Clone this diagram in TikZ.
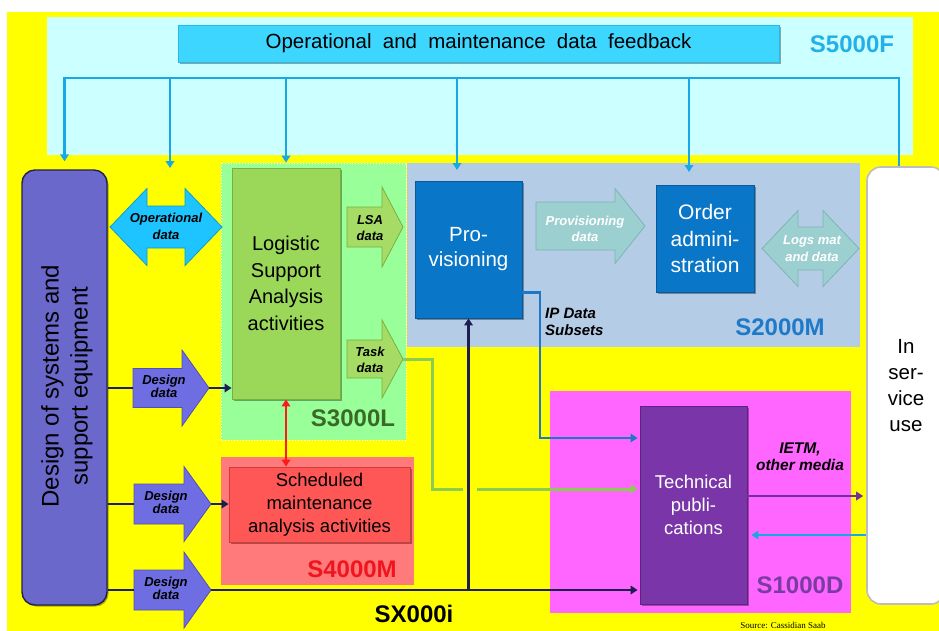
\documentclass[tikz,border=0pt]{standalone}
\usepackage{fontspec}
\setmainfont{Liberation Sans}
\newfontfamily\srcfont{Liberation Serif}
\usetikzlibrary{arrows.meta,calc,shadows}

\definecolor{yel}{HTML}{FFFF00}
\definecolor{fbpanel}{HTML}{CCFFFF}
\definecolor{fbbar}{HTML}{3DD6FF}
\definecolor{fbbaredge}{HTML}{2CB8E0}
\definecolor{fbline}{HTML}{18A8E6}
\definecolor{fblabel}{HTML}{22B0E8}
\definecolor{dsgn}{HTML}{6B68CC}
\definecolor{dsgnedge}{HTML}{22224F}
\definecolor{darr}{HTML}{6E6EE2}
\definecolor{darredge}{HTML}{5050B8}
\definecolor{oparr}{HTML}{1EC4FF}
\definecolor{oparredge}{HTML}{0A9AD8}
\definecolor{lsapanel}{HTML}{99FF99}
\definecolor{lsabox}{HTML}{9BD85A}
\definecolor{lsaedge}{HTML}{78B040}
\definecolor{lsaarr}{HTML}{A6DC66}
\definecolor{lsalabel}{HTML}{3A6A28}
\definecolor{sbpanel}{HTML}{B4CCE6}
\definecolor{sblabel}{HTML}{1E7AC8}
\definecolor{bluebox}{HTML}{0A76C8}
\definecolor{blueedge}{HTML}{08589A}
\definecolor{tealarr}{HTML}{9CCFCF}
\definecolor{tealedge}{HTML}{7EB4B4}
\definecolor{smpanel}{HTML}{FF7A7A}
\definecolor{smlabel}{HTML}{F0141E}
\definecolor{schedbox}{HTML}{FF5656}
\definecolor{schededge}{HTML}{D03A3A}
\definecolor{redarr}{HTML}{FF1A1A}
\definecolor{tdpanel}{HTML}{FF66FF}
\definecolor{tdlabel}{HTML}{7A3CA0}
\definecolor{tpbox}{HTML}{7A36A8}
\definecolor{tpedge}{HTML}{5A2480}
\definecolor{ietmcol}{HTML}{7030A0}
\definecolor{navy}{HTML}{1E1E50}
\definecolor{grn}{HTML}{8CCC50}
\definecolor{ipcol}{HTML}{1E78C8}
\definecolor{svcedge}{HTML}{BDBDBD}

% right-pointing block arrow: style, x tail, x tip, y centre, half body, half head, head length
\newcommand{\dataarrowR}[7]{\path[#1] (#2,#4-#5) -- (#3-#7,#4-#5) -- (#3-#7,#4-#6) -- (#3,#4)
  -- (#3-#7,#4+#6) -- (#3-#7,#4+#5) -- (#2,#4+#5) -- cycle;}
% two-headed block arrow, same arguments
\newcommand{\dataarrowLR}[7]{\path[#1] (#2,#4) -- (#2+#7,#4-#6) -- (#2+#7,#4-#5) -- (#3-#7,#4-#5)
  -- (#3-#7,#4-#6) -- (#3,#4) -- (#3-#7,#4+#6) -- (#3-#7,#4+#5) -- (#2+#7,#4+#5) -- (#2+#7,#4+#6) -- cycle;}

\begin{document}
\begin{tikzpicture}[x=1pt,y=-1pt,
  >={Triangle[length=7pt,width=8.5pt]},
  sbox/.style={draw, line width=0.8pt, inner sep=0, align=center,
    drop shadow={shadow xshift=1.5pt, shadow yshift=-1.5pt, opacity=0.35, fill=black}},
  slabel/.style={font=\fontsize{24}{24}\selectfont\bfseries, inner sep=0},
  alabel/.style={font=\fontsize{13}{15}\selectfont\bfseries\itshape, align=center, inner sep=0},
  conn/.style={line width=2.7pt},
  fbl/.style={conn, draw=fbline},
  navyl/.style={conn, draw=navy},
  grl/.style={conn, line width=3pt, draw=grn},
  ipl/.style={conn, draw=ipcol},
  ietml/.style={conn, draw=ietmcol},
  retl/.style={conn, draw=fbline},
  redl/.style={conn, draw=redarr},
  darrow/.style={fill=darr, draw=darredge, line width=0.8pt},
  oparrow/.style={fill=oparr, draw=oparredge, line width=0.8pt},
  lsaarrow/.style={fill=lsaarr, draw=lsaedge, line width=0.8pt},
  tealarrow/.style={fill=tealarr, draw=tealedge, line width=0.8pt},
]
\clip (0,0) rectangle (939,630);
\fill[white] (0,0) rectangle (939,630);

% ---- background areas ----
\fill[yel] (7,12) rectangle (945,640);
\fill[fbpanel] (47,17) rectangle (913,155);
\fill[sbpanel] (407,163) rectangle (860,347);
\path[fill=lsapanel, draw=white, dotted, line width=0.9pt] (221,163) rectangle (406,440);
\fill[smpanel] (221,457) rectangle (414,585);
\fill[tdpanel] (550,391) rectangle (851,613);

% ---- specification labels ----
\node[slabel, text=fblabel] (s5000f) at (852,44) {S5000F};
\node[slabel, text=lsalabel] (s3000l) at (353,418) {S3000L};
\node[slabel, text=sblabel] (s2000m) at (780,327) {S2000M};
\node[slabel, text=smlabel] (s4000m) at (352,569) {S4000M};
\node[slabel, text=tdlabel] (s1000d) at (800,585) {S1000D};
\node[slabel, text=black] (sx000i) at (414,614) {SX000i};
\node[font=\srcfont\fontsize{9}{10}\selectfont, inner sep=0] (src) at (783,625) {Source: Cassidian Saab};

% ---- boxes ----
\node[sbox, fill=fbbar, draw=fbbaredge, minimum width=601pt, minimum height=37pt,
  font=\fontsize{20.5}{24}\selectfont] (feedbar) at (478.5,43.5)
  {\raisebox{-1.5pt}{Operational\hspace{0.55em}and\hspace{0.55em}maintenance\hspace{0.55em}data\hspace{0.55em}feedback}};

\node[sbox, fill=dsgn, draw=dsgnedge, line width=1.4pt, rounded corners=13pt,
  minimum width=85pt, minimum height=435pt] (design) at (64.5,387.5) {};
\node[rotate=90, align=center, inner sep=0, font=\fontsize{24}{29}\selectfont] (designtxt)
  at (67,386) {Design of systems and\\support equipment};

\node[sbox, fill=lsabox, draw=lsaedge, minimum width=108pt, minimum height=231pt,
  font=\fontsize{20}{26.5}\selectfont] (lsa) at (286,283.5)
  {Logistic\\Support\\Analysis\\activities};

\node[sbox, fill=bluebox, draw=blueedge, text=white, minimum width=107pt, minimum height=137pt,
  font=\fontsize{20.5}{25}\selectfont] (prov) at (468.5,249.5) {Pro-\\visioning};

\node[sbox, fill=bluebox, draw=blueedge, text=white, minimum width=98pt, minimum height=107pt,
  font=\fontsize{21}{26.5}\selectfont] (order) at (705,238.5) {Order\\admini-\\stration};

\node[sbox, fill=schedbox, draw=schededge, minimum width=181pt, minimum height=75pt,
  font=\fontsize{18.5}{23}\selectfont] (sched) at (319.5,504.5)
  {Scheduled\\maintenance\\analysis activities};

\node[sbox, fill=tpbox, draw=tpedge, text=white, minimum width=107pt, minimum height=198pt,
  font=\fontsize{18.5}{23}\selectfont] (techpub) at (693.5,505) {Technical\\publi-\\cations};

\node[draw=svcedge, line width=1.6pt, fill=white, rounded corners=14pt, inner sep=0,
  align=center, minimum width=78pt, minimum height=437pt,
  font=\fontsize{20.5}{26}\selectfont] (service) at (906,385.5) {In\\ser-\\vice\\use};

% ---- block arrows ----
\dataarrowLR{oparrow}{110}{222}{227}{21}{38.5}{37}
\node[alabel, font=\fontsize{13}{17}\selectfont\bfseries\itshape] (opdata) at (166,226.5) {Operational\\data};

\dataarrowR{lsaarrow}{347}{403}{227}{20}{40}{21}
\node[alabel, font=\fontsize{13}{16}\selectfont\bfseries\itshape] (lsadata) at (370,228.5) {LSA\\data};

\dataarrowR{lsaarrow}{347}{403}{359}{19}{39}{21}
\node[alabel, font=\fontsize{13}{16}\selectfont\bfseries\itshape] (taskdata) at (370,360) {Task\\data};

\dataarrowR{tealarrow}{536}{645}{226}{24}{37.5}{30}
\node[alabel, text=white, font=\fontsize{13}{16}\selectfont\bfseries\itshape] (provdata) at (585,229) {Provisioning\\data};

\dataarrowLR{tealarrow}{762}{859}{248.5}{21.5}{38}{36}
\node[alabel, text=white, font=\fontsize{13}{17}\selectfont\bfseries\itshape] (logsdata) at (812,248.5) {Logs mat\\and data};

\dataarrowR{darrow}{133}{209}{388}{19.5}{38}{27}
\node[alabel, font=\fontsize{13}{13.5}\selectfont\bfseries\itshape] (dd1) at (164,386.5) {Design\\data};
\dataarrowR{darrow}{134}{211}{504}{20}{37.5}{27}
\node[alabel, font=\fontsize{13}{13.5}\selectfont\bfseries\itshape] (dd2) at (166,502.5) {Design\\data};
\dataarrowR{darrow}{134}{211}{590}{20}{38}{27}
\node[alabel, font=\fontsize{13}{13.5}\selectfont\bfseries\itshape] (dd3) at (166,588.5) {Design\\data};

% arrow ends used by the connectors
\coordinate (da1t) at (133,388);  \coordinate (da1h) at (209,388);
\coordinate (da2t) at (134,504);  \coordinate (da2h) at (211,504);
\coordinate (da3t) at (134,590);  \coordinate (da3h) at (211,590);
\coordinate (taskh) at (403,359);

% ---- feedback distribution ----
\coordinate (busR) at (899,78);
\coordinate (t2) at (170,168);
\coordinate (t4) at (457,170);
\coordinate (t5) at (689,172);
\draw[fbl, <-, shorten <=8pt] (design.north) |- (busR) -- (busR |- service.north);
\draw[fbl, ->] (t2 |- busR) -- (t2);
\draw[fbl, ->, shorten >=5pt] (lsa.north |- busR) -- (lsa.north);
\draw[fbl, ->] (t4 |- busR) -- (t4);
\draw[fbl, ->] (t5 |- busR) -- (t5);

% ---- design data flows ----
\draw[navyl] (design.east |- da1t) -- (da1t);
\draw[navyl, ->] (da1h) -- (lsa.west |- da1h);
\draw[navyl] (design.east |- da2t) -- (da2t);
\draw[navyl, ->] (da2h) -- (sched.west |- da2h);
\draw[navyl] (design.east |- da3t) -- (da3t);
\draw[navyl, ->, shorten >=2pt] (da3h) -- (techpub.west |- da3h);
\draw[navyl, ->] (prov.south |- da3h) -- (prov.south);

% ---- LSA <-> scheduled maintenance ----
\draw[redl, <->] (lsa.south) -- (lsa.south |- sched.north);

% ---- task data to technical publications ----
\coordinate (gbend) at (432,489);
\coordinate (gcut1) at (463,489);
\coordinate (gcut2) at (477,489);
\draw[grl] (taskh) -| (gbend) -- (gcut1);
\draw[grl, ->, shorten >=2pt] (gcut2) -- (techpub.west |- gcut2);

% ---- IP data subsets ----
\coordinate (ipbend) at (540,438);
\draw[ipl, ->, shorten >=2pt] ($(prov.south east)+(0,-26)$) -| (ipbend) -- (techpub.west |- ipbend);
\node[alabel, font=\fontsize{15}{17}\selectfont\bfseries\itshape, align=left, anchor=west]
  (ipdata) at (545,321.5) {IP Data\\Subsets};

% ---- technical publications <-> in service use ----
\coordinate (ietm) at ($(techpub.east)+(0,-9)$);
\coordinate (ret) at ($(techpub.east)+(0,30)$);
\draw[ietml, ->, shorten >=3pt] (ietm) -- (service.west |- ietm);
\draw[retl, ->, shorten >=4pt] (service.west |- ret) -- (ret);
\node[alabel, font=\fontsize{15.5}{17}\selectfont\bfseries\itshape] (ietmlbl) at (800,456.5) {IETM,\\other media};

\end{tikzpicture}
\end{document}
